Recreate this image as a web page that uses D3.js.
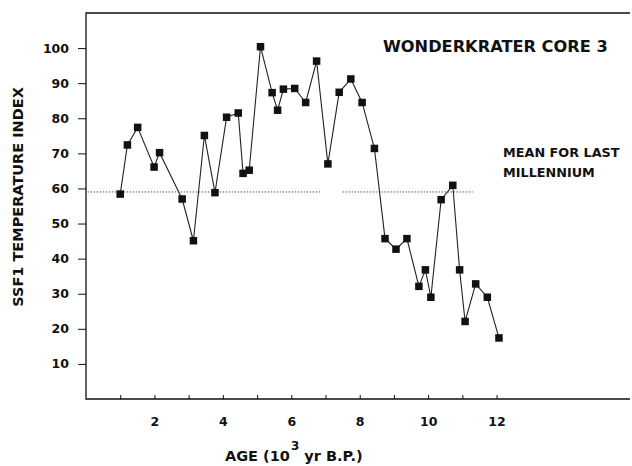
<!DOCTYPE html>
<html>
<head>
<meta charset="utf-8">
<script src="https://cdn.jsdelivr.net/npm/d3@7"></script>
<style>
  body { margin: 0; background: #fff; }
  svg text { font-family: "DejaVu Sans", "Liberation Sans", sans-serif; font-weight: bold; fill: #111; }
</style>
</head>
<body>
<div id="canvas"></div>
<script>
// ages in 10^3 yr B.P.
const ages = [1.00, 1.21, 1.51, 1.99, 2.15, 2.81, 3.14, 3.46, 3.77, 4.11,
              4.45, 4.59, 4.77, 5.10, 5.44, 5.60, 5.77, 6.10, 6.42, 6.74,
              7.07, 7.40, 7.74, 8.07, 8.43, 8.74, 9.06, 9.38, 9.73, 9.92,
              10.08, 10.38, 10.72, 10.92, 11.08, 11.39, 11.73, 12.07];
const tempIndex = [58.4, 72.4, 77.4, 66.1, 70.2, 57.0, 45.1, 75.1, 58.8, 80.3,
                   81.5, 64.3, 65.2, 100.4, 87.3, 82.3, 88.3, 88.5, 84.5, 96.3,
                   67.0, 87.4, 91.2, 84.5, 71.4, 45.7, 42.7, 45.7, 32.1, 36.8,
                   29.0, 56.8, 60.9, 36.8, 22.1, 32.8, 29.0, 17.4];

const meanValue = 59;
const meanSegments = [[0.05, 6.85], [7.5, 11.3]];

const yTicks = [10, 20, 30, 40, 50, 60, 70, 80, 90, 100];
const xTicks = [1, 2, 3, 4, 5, 6, 7, 8, 9, 10, 11, 12];
const xLabels = [2, 4, 6, 8, 10, 12];

const data = ages.map(function(a, i) { return {age: a, v: tempIndex[i]}; });

const W = 632, H = 466;
const svg = d3.select("#canvas").append("svg")
    .attr("width", W).attr("height", H);

const x = d3.scaleLinear().domain([0, 15.9]).range([86, 630]);
const y = d3.scaleLinear().domain([0, 110]).range([399, 13]);

const frame = svg.append("g").attr("stroke", "#111").attr("fill", "none");
// left + top + bottom frame (no right side in the original)
frame.append("path")
    .attr("stroke-width", 1.3)
    .attr("d", "M" + x.range()[1] + "," + y.range()[1] +
               "H" + x.range()[0] + "V" + y.range()[0] + "H" + x.range()[1]);

// y axis ticks, outside
const yAxis = svg.append("g")
    .attr("transform", "translate(" + x.range()[0] + ",0)")
    .call(d3.axisLeft(y).tickValues(yTicks).tickSize(8).tickPadding(9));
yAxis.select(".domain").remove();
yAxis.selectAll("line").attr("stroke", "#111");
yAxis.selectAll("text").style("font-size", "12.5px").style("font-family", null);

// x axis ticks, inside
const xAxis = svg.append("g")
    .attr("transform", "translate(0," + y.range()[0] + ")")
    .call(d3.axisBottom(x).tickValues(xTicks).tickSizeInner(-4).tickSizeOuter(0)
          .tickFormat(function(d) { return xLabels.indexOf(d) >= 0 ? d : ""; })
          .tickPadding(18));
xAxis.select(".domain").remove();
xAxis.selectAll("line").attr("stroke", "#111");
xAxis.selectAll("text").style("font-size", "12.5px").style("font-family", null);

// mean of last millennium, dotted
svg.append("g").selectAll("line")
  .data(meanSegments)
  .enter().append("line")
    .attr("x1", function(d) { return x(d[0]); })
    .attr("x2", function(d) { return x(d[1]); })
    .attr("y1", y(meanValue)).attr("y2", y(meanValue))
    .attr("stroke", "#333")
    .attr("stroke-width", 1)
    .attr("stroke-dasharray", "1.2,1.8");

const line = d3.line()
    .x(function(d) { return x(d.age); })
    .y(function(d) { return y(d.v); });

svg.append("path")
    .datum(data)
    .attr("d", line)
    .attr("fill", "none")
    .attr("stroke", "#222")
    .attr("stroke-width", 1.1);

const s = 7.5;
svg.append("g").selectAll("rect")
  .data(data)
  .enter().append("rect")
    .attr("x", function(d) { return x(d.age) - s / 2; })
    .attr("y", function(d) { return y(d.v) - s / 2; })
    .attr("width", s).attr("height", s)
    .attr("fill", "#111");

// labels
svg.append("text")
    .attr("x", 383).attr("y", 52)
    .style("font-size", "16.2px")
    .text("WONDERKRATER CORE 3");

svg.append("text")
    .attr("x", 503).attr("y", 157)
    .style("font-size", "12.8px")
    .text("MEAN FOR LAST");
svg.append("text")
    .attr("x", 503).attr("y", 177)
    .style("font-size", "12.8px")
    .text("MILLENNIUM");

svg.append("text")
    .attr("transform", "translate(23,197) rotate(-90)")
    .attr("text-anchor", "middle")
    .style("font-size", "14.5px")
    .text("SSF1 TEMPERATURE INDEX");

const xl = svg.append("text")
    .attr("x", 225).attr("y", 461)
    .style("font-size", "14.5px");
xl.append("tspan").text("AGE (10");
xl.append("tspan").attr("dy", -11).attr("dx", 1).style("font-size", "12px").text("3");
xl.append("tspan").attr("dy", 11).text(" yr B.P.)");
</script>
</body>
</html>
